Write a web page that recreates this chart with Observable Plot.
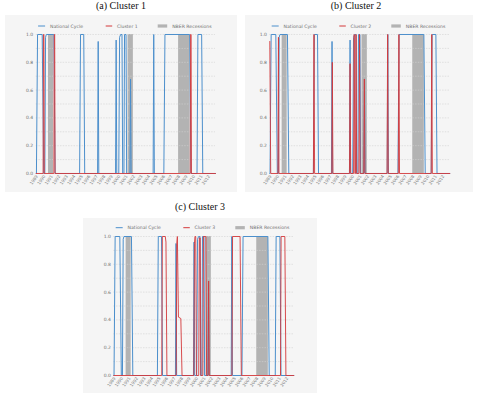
<!DOCTYPE html>
<html><head><meta charset="utf-8">
<script src="https://cdn.jsdelivr.net/npm/d3@7"></script>
<script src="https://cdn.jsdelivr.net/npm/@observablehq/plot@0.6"></script>
<style>
body{margin:0;background:#fff;width:482px;height:419px;position:relative;overflow:hidden;font-family:"DejaVu Sans",sans-serif}
.box{position:absolute;background:#f5f5f5}
.title{position:absolute;font-family:"Liberation Serif",serif;font-size:10px;text-align:center;color:#111;line-height:10px;white-space:nowrap;width:120px}
.plot{position:absolute}
#leg{position:absolute;left:0;top:0}
</style></head><body>
<script>
// ---- data ----
const yearTicks = [1989,1990,1991,1992,1993,1994,1995,1996,1997,1998,1999,2000,2001,2002,2003,2004,2005,2006,2007,2008,2009,2010,2011,2012];
const yTicks = [0,0.2,0.4,0.6,0.8,1.0];
const gridLevels = [0.1,0.2,0.3,0.4,0.5,0.6,0.7,0.8,0.9,1.0];
const panelTitles = ["(a) Cluster 1","(b) Cluster 2","(c) Cluster 3"];
const clusterNames = ["Cluster 1","Cluster 2","Cluster 3"];
const nationalName = "National Cycle";
const recessionName = "NBER Recessions";

const recStart = [1990.54, 2001.17, 2007.92];
const recEnd   = [1991.21, 2001.88, 2009.46];

const natYear = [1988.9,1988.93,1989.08,1989.7,1989.9,1990.05,1990.15,1990.25,1991.25,1991.43,1994.7,1994.82,1995.25,1995.38,1997.1,1997.18,1997.26,1999.5,1999.58,1999.66,1999.93,2000.04,2000.18,2000.36,2000.45,2000.62,2000.7,2000.9,2000.98,2001.42,2001.5,2001.58,2004.52,2004.6,2004.68,2005.95,2006.1,2009.4,2009.58,2010.38,2010.5,2011.0,2011.15,2012.85];
const natProb = [0,0,1,1,0,0,0.98,1,1,0,0,1,1,0,0,0.95,0,0,0.96,0,0,0.98,1,1,0,0,1,1,0,0,0.68,0,0,1,0,0,1,1,0,0,1,1,0,0];

const c1Year = [1988.9,1989.82,1989.87,1989.93,1989.98,1991.26,1991.31,1991.37,1991.42,2009.48,2009.53,2009.59,2009.64,2012.85];
const c1Prob = [0,0,1,1,0,0,1,1,0,0,1,1,0,0];

const c2Year = [1988.9,1989.02,1989.98,1990.05,1990.12,1994.7,1994.78,1994.86,1997.15,1997.22,1997.3,1999.5,1999.58,1999.66,2000.05,2000.13,2000.22,2000.3,2000.38,2000.46,2000.76,2000.84,2000.92,2001.4,2001.48,2001.56,2004.5,2004.58,2004.66,2006.0,2006.08,2006.16,2010.37,2010.45,2010.53,2012.85];
const c2Prob = [0.95,0,0,0.98,0,0,1,0,0,0.8,0,0,0.79,0,0,1,0,0,1,0,0,1,0,0,0.68,0,0,1,0,0,1,0,0,1,0,0];

const c3Year = [1988.9,1995.28,1995.36,1995.75,1995.84,1995.97,1997.2,1997.28,1997.36,1997.5,1997.82,1997.98,1999.55,1999.63,1999.7,1999.8,1999.9,2000.2,2000.28,2000.4,2000.48,2000.75,2000.83,2001.15,2001.25,2001.45,2001.52,2001.6,2004.62,2004.7,2005.7,2005.87,2011.08,2011.16,2011.66,2011.8,2012.85];
const c3Prob = [0,0,1,1,0.96,0,0,0.95,1,0.42,0.41,0,0,0.95,1,1,0,0,0.99,0.99,0,0,1,1,0,0,0.68,0,0,1,1,0,0,1,1,0,0];

// ---- style ----
const BLUE = "#4b8fcc", RED = "#d4393b", GRAY = "#b3b3b3", TXT = "#707070";

const rows = (ys, ps) => ys.map((t, i) => ({t, p: ps[i]}));
const nat = rows(natYear, natProb);
const clusters = [rows(c1Year, c1Prob), rows(c2Year, c2Prob), rows(c3Year, c3Prob)];
const rec = recStart.map((s, i) => ({s, e: recEnd[i]}));

const layout = [
  {box:[5,15,237,192],   plot:[35.7,34.3,215,173.3],   title:[121,1]},
  {box:[245,15,473,192], plot:[269.3,34.3,449.3,173.3], title:[356,1]},
  {box:[83,218,317,393], plot:[113.3,236,293.3,375],   title:[200,201.5]}
];

const legSvg = d3.create("svg").attr("id","leg").attr("width",482).attr("height",419);

layout.forEach((L, i) => {
  const [bx0, by0, bx1, by1] = L.box;
  const [px0, py0, px1, py1] = L.plot;
  const box = document.createElement("div");
  box.className = "box";
  Object.assign(box.style, {left: bx0+"px", top: by0+"px", width: (bx1-bx0)+"px", height: (by1-by0)+"px"});
  document.body.appendChild(box);

  const t = document.createElement("div");
  t.className = "title";
  t.textContent = panelTitles[i];
  Object.assign(t.style, {left: (L.title[0]-60)+"px", top: L.title[1]+"px"});
  document.body.appendChild(t);

  const svgTop = py0 - 5;
  const chart = Plot.plot({
    width: bx1 - bx0, height: by1 - svgTop,
    marginLeft: px0 - bx0, marginRight: bx1 - px1, marginTop: py0 - svgTop, marginBottom: by1 - py1,
    style: {background: "transparent", overflow: "visible", fontFamily: "DejaVu Sans"},
    x: {domain: [1988.9, 2012.85]},
    y: {domain: [0, 1]},
    marks: [
      Plot.rect(rec, {x1: "s", x2: "e", y1: 0, y2: 1, fill: GRAY}),
      Plot.gridY(gridLevels, {stroke: "#d2d2d2", strokeOpacity: 1, strokeWidth: 0.6, strokeDasharray: "1.5,1.2"}),
      Plot.axisY(yTicks, {tickFormat: d => d.toFixed(1), tickSize: 0, tickPadding: 3, fontSize: 4.5, fill: TXT, label: null}),
      Plot.axisX(yearTicks, {tickFormat: d => String(d), tickSize: 0, tickRotate: -55, tickPadding: 2, fontSize: 4.2, fill: TXT, label: null}),
      Plot.line(nat, {x: "t", y: "p", stroke: BLUE, strokeWidth: 1}),
      Plot.line(clusters[i], {x: "t", y: "p", stroke: RED, strokeWidth: 1, strokeOpacity: 0.9})
    ]
  });
  chart.classList.add("plot");
  chart.style.left = bx0 + "px";
  chart.style.top = svgTop + "px";
  document.body.appendChild(chart);

  // legend
  const ly = py0 - 8.3;
  const g = legSvg.append("g").attr("font-family","DejaVu Sans").attr("font-size",4.6).attr("fill",TXT);
  g.append("line").attr("x1",px0+2.4).attr("x2",px0+9.4).attr("y1",ly).attr("y2",ly).attr("stroke",BLUE).attr("stroke-width",1);
  g.append("text").attr("x",px0+14.3).attr("y",ly).attr("dy","0.35em").text(nationalName);
  g.append("line").attr("x1",px0+70).attr("x2",px0+76.5).attr("y1",ly).attr("y2",ly).attr("stroke",RED).attr("stroke-width",1);
  g.append("text").attr("x",px0+81.3).attr("y",ly).attr("dy","0.35em").text(clusterNames[i]);
  g.append("rect").attr("x",px0+122).attr("y",ly-1.6).attr("width",9.5).attr("height",3.2).attr("fill",GRAY);
  g.append("text").attr("x",px0+136.5).attr("y",ly).attr("dy","0.35em").text(recessionName);
});
document.body.appendChild(legSvg.node());
</script></body></html>
